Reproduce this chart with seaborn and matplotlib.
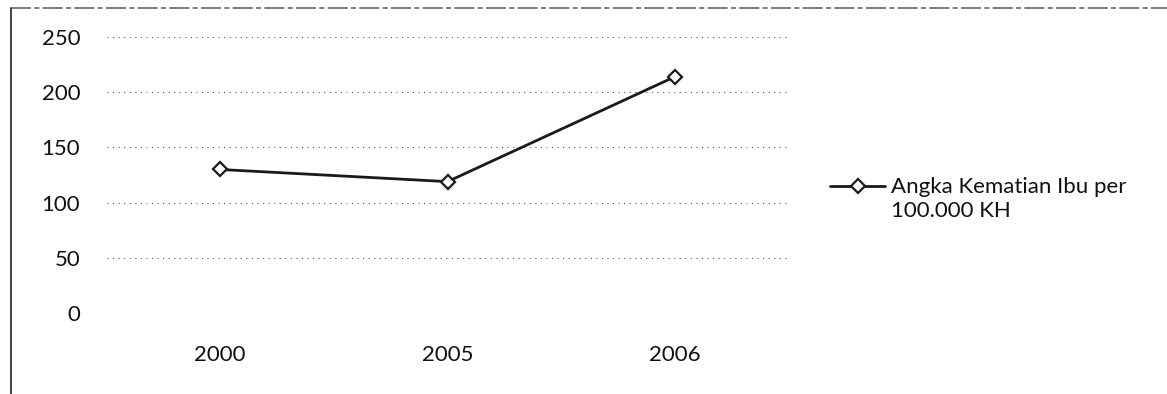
import matplotlib
matplotlib.use("Agg")
import matplotlib.pyplot as plt
from matplotlib.lines import Line2D
from matplotlib.legend_handler import HandlerLine2D
import numpy as np
import seaborn as sns
import pandas as pd

years = ["2000", "2005", "2006"]
mmr = [130, 119, 214]
series_label = "Angka Kematian Ibu per\n100.000 KH"
y_ticks = [0, 50, 100, 150, 200, 250]

sns.set_theme(style="white")
plt.rcParams["font.family"] = ["Lato", "DejaVu Sans"]

df = pd.DataFrame({"Tahun": years, "Nilai": mmr})


class FirstLineHandler(HandlerLine2D):
    """Line handle aligned with the first line of a two-line label."""

    def create_artists(self, legend, orig_handle, xdescent, ydescent,
                       width, height, fontsize, trans):
        arts = super().create_artists(legend, orig_handle, xdescent, ydescent,
                                      width, height, fontsize, trans)
        for a in arts:
            a.set_ydata(np.asarray(a.get_ydata(), dtype=float) + fontsize * 0.6)
        return arts


fig = plt.figure(figsize=(11.67, 3.94), dpi=100)
ax = fig.add_axes([0.0913, 0.2056, 0.5844, 0.7005])

for y in y_ticks:
    ax.axhline(y, color="#555555", lw=0.8, ls=(0, (1, 4)), zorder=0)

sns.lineplot(data=df, x="Tahun", y="Nilai", ax=ax, color="#1a1a1a", lw=2.0,
             marker="D", markersize=7, markerfacecolor="white",
             markeredgecolor="#1a1a1a", markeredgewidth=1.6,
             label=series_label, sort=False)

ax.set_xlim(-0.5, 2.5)
ax.set_ylim(0, 250)
ax.set_yticks(y_ticks)
ax.set_xlabel("")
ax.set_ylabel("")
for s in ax.spines.values():
    s.set_visible(False)
ax.tick_params(axis="y", length=0, pad=19, labelsize=16, labelcolor="#111111")
ax.tick_params(axis="x", length=0, pad=23, labelsize=16, labelcolor="#111111")

handles, labels = ax.get_legend_handles_labels()
ax.legend(handles, labels, loc="center left", bbox_to_anchor=(0.711, 0.495),
          bbox_transform=fig.transFigure, frameon=False, fontsize=16,
          handlelength=2.5, handletextpad=0.25, borderaxespad=0,
          borderpad=0, handler_map={Line2D: FirstLineHandler()})
for t in ax.get_legend().get_texts():
    t.set_color("#111111")

# outer chart frame (top and left edges)
fig.add_artist(Line2D([0.009, 1.0], [0.98, 0.98], transform=fig.transFigure,
                      color="#666666", lw=1.2, ls=(0, (12, 2, 3, 2))))
fig.add_artist(Line2D([0.009, 0.009], [0.0, 0.98], transform=fig.transFigure,
                      color="#222222", lw=1.2))

fig.savefig("out.png", dpi=100, facecolor="white")
